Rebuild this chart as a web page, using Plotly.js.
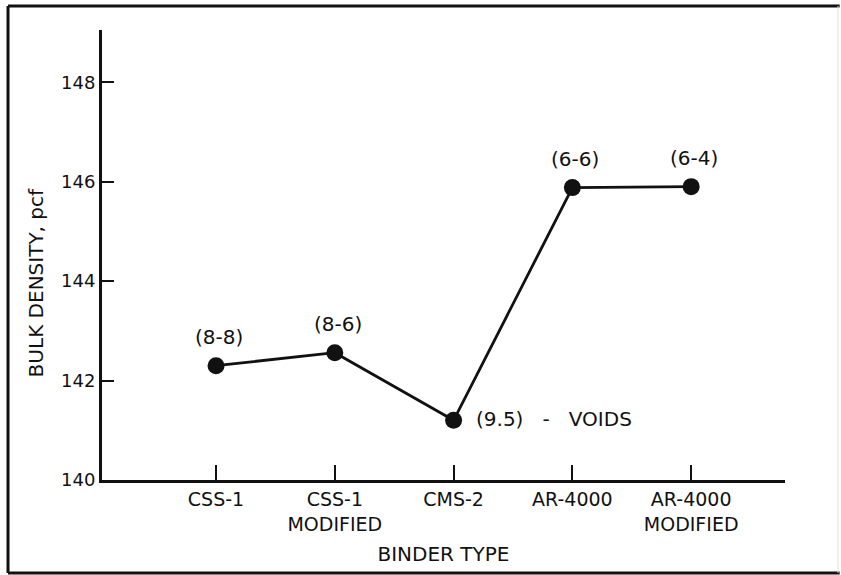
<!DOCTYPE html>
<html>
<head>
<meta charset="utf-8">
<script src="https://cdn.plot.ly/plotly-3.0.1.min.js"></script>
<style>html,body{margin:0;padding:0;background:#fff;}#chart{width:841px;height:575px;}</style>
</head>
<body>
<div id="chart"></div>
<script>
// Data
const binderTypes = ["CSS-1", "CSS-1<br>MODIFIED", "CMS-2", "AR-4000", "AR-4000<br>MODIFIED"];
const bulkDensity = [142.3, 142.56, 141.2, 145.88, 145.9];
const voidLabels = ["(8-8)", "(8-6)", "(9.5)\u00a0\u00a0\u00a0-\u00a0\u00a0\u00a0VOIDS", "(6-6)", "(6-4)"];
const yTickValues = [140, 142, 144, 146, 148];
const xTitle = "BINDER TYPE";
const yTitle = "BULK DENSITY, pcf";

const ink = "#111111";
const fontFamily = "'DejaVu Sans', 'Liberation Sans', Arial, sans-serif";

const trace = {
  x: binderTypes,
  y: bulkDensity,
  mode: "lines+markers",
  line: {color: ink, width: 2.8},
  marker: {color: ink, size: 17},
  cliponaxis: false,
  hoverinfo: "x+y"
};

// Point labels placed at the data points through the axes
const labelAnnotations = voidLabels.map((t, i) => {
  const side = (i === 2);
  return {
    x: binderTypes[i],
    y: bulkDensity[i],
    xref: "x",
    yref: "y",
    text: t,
    showarrow: false,
    xanchor: side ? "left" : "center",
    yanchor: "middle",
    xshift: side ? 20 : 3,
    yshift: side ? 1 : 29,
    font: {family: fontFamily, size: 20, color: ink}
  };
});

const yTitleAnnotation = {
  xref: "paper", yref: "paper",
  x: -0.0974, y: 0.438,
  xanchor: "center", yanchor: "middle",
  textangle: -90,
  text: yTitle,
  showarrow: false,
  font: {family: fontFamily, size: 20, color: ink}
};

const layout = {
  width: 841,
  height: 575,
  margin: {l: 102, r: 56, t: 30, b: 95},
  paper_bgcolor: "#ffffff",
  plot_bgcolor: "#ffffff",
  showlegend: false,
  font: {family: fontFamily, color: ink, size: 18},
  xaxis: {
    type: "category",
    range: [-0.96, 4.79],
    showgrid: false,
    zeroline: false,
    showline: true,
    linecolor: ink,
    linewidth: 3,
    ticks: "inside",
    ticklen: 15,
    tickwidth: 2,
    tickcolor: ink,
    tickfont: {family: fontFamily, size: 19, color: ink},
    title: {text: xTitle, font: {family: fontFamily, size: 20, color: ink}, standoff: 14}
  },
  yaxis: {
    range: [140, 149.05],
    tickvals: yTickValues,
    ticktext: yTickValues.map(String),
    showgrid: false,
    zeroline: false,
    showline: true,
    linecolor: ink,
    linewidth: 3,
    ticks: "inside",
    ticklen: 12,
    tickwidth: 2,
    tickcolor: ink,
    tickfont: {family: fontFamily, size: 18, color: ink}
  },
  annotations: labelAnnotations.concat([yTitleAnnotation]),
  shapes: [
    {type: "line", xref: "paper", yref: "paper", x0: -0.1376, x1: -0.1376, y0: -0.2067, y1: 1.0533, line: {color: ink, width: 3}},
    {type: "line", xref: "paper", yref: "paper", x0: -0.1376, x1: 1.08, y0: 1.0533, y1: 1.0533, line: {color: ink, width: 3}},
    {type: "line", xref: "paper", yref: "paper", x0: -0.1376, x1: 1.08, y0: -0.2067, y1: -0.2067, line: {color: ink, width: 3}},
    {type: "line", xref: "paper", yref: "paper", x0: 1.0776, x1: 1.0776, y0: -0.2067, y1: 1.0533, line: {color: "#dddddd", width: 1}}
  ]
};

Plotly.newPlot("chart", [trace], layout, {displayModeBar: false, staticPlot: true});
</script>
</body>
</html>
